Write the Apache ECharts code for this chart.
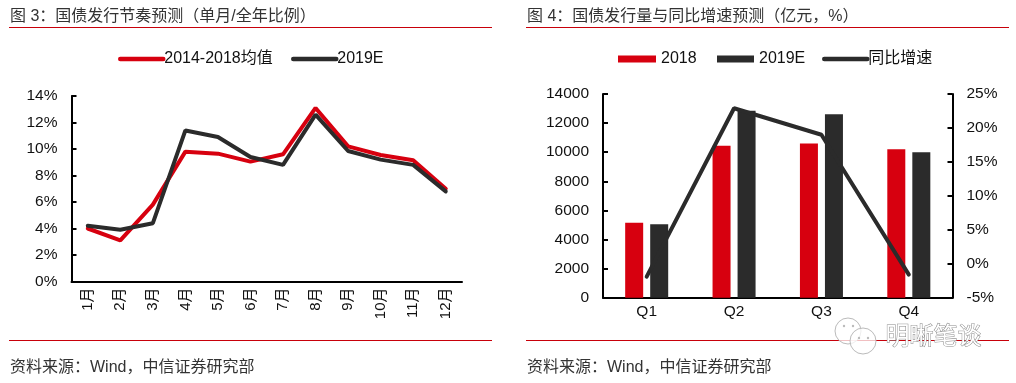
<!DOCTYPE html>
<html>
<head>
<meta charset="utf-8">
<style>
  html, body { margin: 0; padding: 0; background: #fff; }
  #chart { width: 1016px; height: 383px; }
</style>
</head>
<body>
<div id="chart"></div>
<script src="https://cdn.jsdelivr.net/npm/echarts@6/dist/echarts.min.js"></script>
<script>
const months = ['1月', '2月', '3月', '4月', '5月', '6月', '7月', '8月', '9月', '10月', '11月', '12月']
const avg1418 = [4.0, 3.1, 5.8, 9.8, 9.65, 9.05, 9.6, 13.1, 10.2, 9.55, 9.15, 7.0]
const ratio2019 = [4.2, 3.9, 4.4, 11.4, 10.9, 9.4, 8.8, 12.6, 9.85, 9.2, 8.8, 6.8]

const quarters = ['Q1', 'Q2', 'Q3', 'Q4']
const issue2018 = [5150, 10450, 10600, 10200]
const issue2019 = [5050, 12850, 12600, 10000]
const growth = [-1.9, 22.9, 19, -1.6]

const RED = '#d7000f'
const DARK = '#2b2b2b'
const RULE = '#c8000a'
const FONT = '"Liberation Sans", "Noto Sans CJK SC", sans-serif'

const labelStyle = { color: '#111', fontSize: 15.5, fontFamily: FONT }
const axisLine = { show: true, onZero: false, lineStyle: { color: '#000', width: 2 } }
const axisTick = { show: true, inside: true, length: 5, lineStyle: { color: '#000', width: 2 } }

function titleItem(text, left, top) {
  return { text, left, top, textStyle: { color: '#333', fontSize: 16, fontWeight: 'normal', fontFamily: FONT } }
}

// itemHeight 压到 2，图例里的圆点就被线盖住了
function lineLegend(name, left, width) {
  return {
    data: [name], left, top: 46, itemWidth: width, itemHeight: 2, itemGap: 0,
    lineStyle: { width: 4.5, cap: 'round' },
    textStyle: { color: '#111', fontSize: 16, fontFamily: FONT, padding: [0, 0, 0, -4] },
  }
}

function barLegend(name, left, width) {
  return {
    data: [{ name, icon: 'rect' }], left, top: 46, itemWidth: width, itemHeight: 7, itemGap: 0,
    textStyle: { color: '#111', fontSize: 16, fontFamily: FONT },
  }
}

function rule(x1, x2, y) {
  return { type: 'line', shape: { x1, y1: y, x2, y2: y }, style: { stroke: RULE, lineWidth: 1 }, silent: true }
}

// 水印：两个气泡 + 文字
const markStroke = { fill: 'rgba(255,255,255,0.75)', stroke: '#bbb', lineWidth: 1 }
function dot(cx, cy) {
  return { type: 'circle', shape: { cx, cy, r: 1.2 }, style: { fill: '#bbb' }, z: 21 }
}
const watermark = [
  { type: 'circle', shape: { cx: 848, cy: 331, r: 13 }, style: markStroke, z: 20 },
  { type: 'circle', shape: { cx: 863, cy: 341, r: 13 }, style: markStroke, z: 20 },
  dot(844, 326), dot(853, 326), dot(859, 338), dot(868, 338),
  {
    type: 'text', left: 885, top: 325, z: 21,
    style: { text: '明晰笔谈', fill: '#fff', stroke: '#8a8a8a', lineWidth: 1, fontSize: 24, fontFamily: FONT },
  },
]

const chart = echarts.init(document.getElementById('chart'))
chart.setOption({
  animation: false,
  backgroundColor: '#fff',
  title: [
    titleItem('图 3：国债发行节奏预测（单月/全年比例）', 5, 4),
    titleItem('图 4：国债发行量与同比增速预测（亿元，%）', 522, 4),
    titleItem('资料来源：Wind，中信证券研究部', 5, 355),
    titleItem('资料来源：Wind，中信证券研究部', 522, 355),
  ],
  legend: [
    lineLegend('2014-2018均值', 113, 43),
    lineLegend('2019E ', 286, 43),
    barLegend('2018', 613, 38),
    barLegend('2019E', 712, 37),
    lineLegend('同比增速', 817, 43),
  ],
  grid: [
    { left: 71.5, right: 1016 - 462, top: 96, height: 185.5 },
    { left: 603, right: 1016 - 952.5, top: 94, height: 203.7 },
  ],
  xAxis: [
    {
      type: 'category', gridIndex: 0, data: months, axisLine, axisTick: { show: false },
      axisLabel: { ...labelStyle, fontSize: 15, rotate: 90, margin: 6, interval: 0 },
    },
    {
      type: 'category', gridIndex: 1, data: quarters, axisLine, axisTick: { show: false },
      axisLabel: { ...labelStyle, margin: 6 },
    },
  ],
  yAxis: [
    {
      type: 'value', gridIndex: 0, min: 0, max: 14, interval: 2, splitLine: { show: false }, axisLine, axisTick,
      axisLabel: { ...labelStyle, margin: 14, formatter: '{value}%' },
    },
    {
      type: 'value', gridIndex: 1, min: 0, max: 14000, interval: 2000, splitLine: { show: false }, axisLine, axisTick,
      axisLabel: { ...labelStyle, margin: 14, formatter: (v) => String(v) },
    },
    {
      type: 'value', gridIndex: 1, position: 'right', min: -5, max: 25, interval: 5, splitLine: { show: false }, axisLine, axisTick,
      axisLabel: { ...labelStyle, margin: 14, formatter: '{value}%' },
    },
  ],
  series: [
    {
      name: '2014-2018均值', type: 'line', xAxisIndex: 0, yAxisIndex: 0, data: avg1418, symbol: 'none',
      itemStyle: { color: RED }, lineStyle: { color: RED, width: 4, cap: 'round' },
    },
    {
      name: '2019E ', type: 'line', xAxisIndex: 0, yAxisIndex: 0, data: ratio2019, symbol: 'none',
      itemStyle: { color: DARK }, lineStyle: { color: DARK, width: 4, cap: 'round' },
    },
    {
      name: '2018', type: 'bar', xAxisIndex: 1, yAxisIndex: 1, data: issue2018,
      barWidth: 18, barGap: '39%', itemStyle: { color: RED },
    },
    {
      name: '2019E', type: 'bar', xAxisIndex: 1, yAxisIndex: 1, data: issue2019,
      barWidth: 18, barGap: '39%', itemStyle: { color: DARK },
    },
    {
      name: '同比增速', type: 'line', xAxisIndex: 1, yAxisIndex: 2, data: growth, symbol: 'none', z: 5,
      itemStyle: { color: DARK }, lineStyle: { color: DARK, width: 4, cap: 'round' },
    },
  ],
  graphic: [
    rule(9, 492, 27.5), rule(526, 1009, 27.5),
    rule(9, 492, 340.5), rule(526, 1009, 340.5),
    ...watermark,
  ],
})
</script>
</body>
</html>
